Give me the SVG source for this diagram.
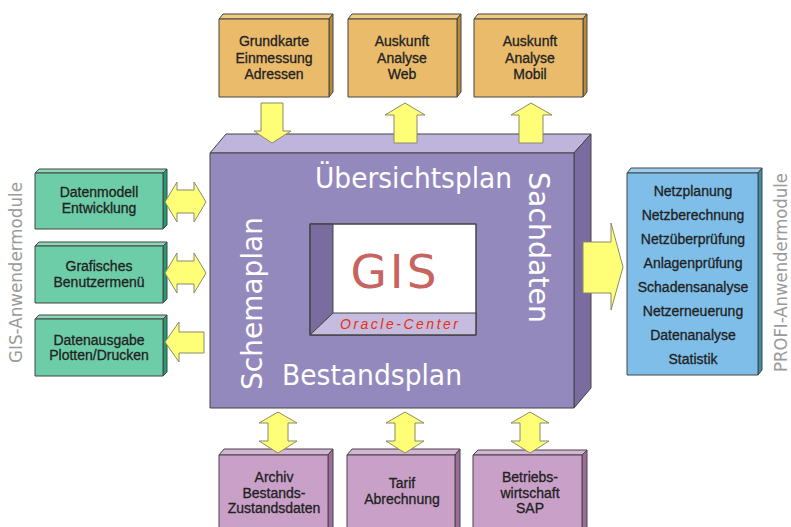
<svg xmlns="http://www.w3.org/2000/svg" width="791" height="527" viewBox="0 0 791 527">
<defs>
<style>
.lbl{font-family:"Liberation Sans",Arial,sans-serif;font-size:14px;fill:#222;stroke:#222;stroke-width:0.3;text-anchor:middle}
.big{font-family:"DejaVu Sans","Liberation Sans",sans-serif;font-size:29px;fill:#fff}
.side{font-family:"DejaVu Sans","Liberation Sans",sans-serif;font-size:17px;fill:#9a9a9a}
.edge{stroke:#444;stroke-width:1;stroke-linejoin:round}
.arr{fill:#ffff77;stroke:#8a8a6a;stroke-width:1;stroke-linejoin:round}
.of{fill:#ebbb6c}.ot{fill:#f0c985}.os{fill:#b98a3a}
.gf{fill:#6dcda9}.gt{fill:#8ad8b8}.gs{fill:#1f9e72}
.bf{fill:#7ebee8}.bt{fill:#9ccdee}.bs{fill:#3c8da8}
.pf{fill:#c9a0c8}.pt{fill:#d6b4d5}.ps{fill:#9c6c9c}
</style>
</defs>
<rect width="791" height="527" fill="#fff"/>

<g id="main">
<polygon class="edge" points="210,153 226,134 591,134 574,153" fill="#bfb5dc"/>
<polygon class="edge" points="574,153 591,134 591,388 574,408" fill="#7a6c9e"/>
<rect class="edge" x="210" y="153" width="364" height="255" fill="#9489bd"/>
<polygon class="edge" points="310,224 476,224 476,335 310,335" fill="#fff"/>
<polygon points="310,224 333,224 333,313 310,335" fill="#7a6c9e" stroke="#444"/>
<polygon points="333,313 476,313 476,335 310,335" fill="#c5bce0" stroke="#444"/>
<rect x="310" y="224" width="166" height="111" fill="none" stroke="#444"/>
<text x="395" y="288" text-anchor="middle" font-family="DejaVu Sans,Liberation Sans,sans-serif" font-size="47" letter-spacing="3" fill="#c8645f">GIS</text>
<text x="340" y="329" font-family="Liberation Sans,sans-serif" font-style="italic" font-size="14" textLength="118" fill="#e83010">Oracle-Center</text>
<text class="big" x="315" y="188" textLength="197" lengthAdjust="spacingAndGlyphs">Übersichtsplan</text>
<text class="big" x="282" y="385" textLength="180" lengthAdjust="spacingAndGlyphs">Bestandsplan</text>
<text class="big" transform="translate(262,390) rotate(-90)" textLength="173" lengthAdjust="spacingAndGlyphs">Schemaplan</text>
<text class="big" transform="translate(529,172) rotate(90)" textLength="151" lengthAdjust="spacingAndGlyphs">Sachdaten</text>
</g>

<g id="top1">
<polygon class="edge ot" points="219,19 223,14 333,14 329,19"/>
<polygon class="edge os" points="329,19 333,14 333,92 329,97"/>
<rect class="edge of" x="219" y="19" width="110" height="78"/>
<text class="lbl" x="274" y="46">Grundkarte</text>
<text class="lbl" x="274" y="63">Einmessung</text>
<text class="lbl" x="274" y="79">Adressen</text>
</g>
<g id="top2">
<polygon class="edge ot" points="348,19 352,14 461,14 457,19"/>
<polygon class="edge os" points="457,19 461,14 461,92 457,97"/>
<rect class="edge of" x="348" y="19" width="109" height="78"/>
<text class="lbl" x="402" y="46">Auskunft</text>
<text class="lbl" x="402" y="63">Analyse</text>
<text class="lbl" x="402" y="79">Web</text>
</g>
<g id="top3">
<polygon class="edge ot" points="474,19 478,14 587,14 583,19"/>
<polygon class="edge os" points="583,19 587,14 587,92 583,97"/>
<rect class="edge of" x="474" y="19" width="109" height="78"/>
<text class="lbl" x="530" y="46">Auskunft</text>
<text class="lbl" x="530" y="63">Analyse</text>
<text class="lbl" x="530" y="79">Mobil</text>
</g>

<g id="left1">
<polygon class="edge gt" points="35,173 39,169 167,169 163,173"/>
<polygon class="edge gs" points="163,173 167,169 167,225 163,229"/>
<rect class="edge gf" x="35" y="173" width="128" height="56"/>
<text class="lbl" x="99" y="197">Datenmodell</text>
<text class="lbl" x="99" y="213">Entwicklung</text>
</g>
<g id="left2">
<polygon class="edge gt" points="35,246 39,242 167,242 163,246"/>
<polygon class="edge gs" points="163,246 167,242 167,299 163,303"/>
<rect class="edge gf" x="35" y="246" width="128" height="57"/>
<text class="lbl" x="99" y="271">Grafisches</text>
<text class="lbl" x="99" y="287">Benutzermenü</text>
</g>
<g id="left3">
<polygon class="edge gt" points="35,319 39,315 167,315 163,319"/>
<polygon class="edge gs" points="163,319 167,315 167,372 163,376"/>
<rect class="edge gf" x="35" y="319" width="128" height="57"/>
<text class="lbl" x="99" y="345">Datenausgabe</text>
<text class="lbl" x="99" y="360">Plotten/Drucken</text>
</g>

<g id="right">
<polygon class="edge bt" points="627,173 631,168 762,168 758,173"/>
<polygon class="edge bs" points="758,173 762,168 762,370 758,375"/>
<rect class="edge bf" x="627" y="173" width="131" height="202"/>
<text class="lbl" x="693" y="196">Netzplanung</text>
<text class="lbl" x="693" y="220">Netzberechnung</text>
<text class="lbl" x="693" y="244">Netzüberprüfung</text>
<text class="lbl" x="693" y="268">Anlagenprüfung</text>
<text class="lbl" x="693" y="292">Schadensanalyse</text>
<text class="lbl" x="693" y="316">Netzerneuerung</text>
<text class="lbl" x="693" y="340">Datenanalyse</text>
<text class="lbl" x="693" y="364">Statistik</text>
</g>

<g id="bot1">
<polygon class="edge pt" points="219,455 224,449 333,449 328,455"/>
<polygon class="edge ps" points="328,455 333,449 333,530 328,530"/>
<rect class="edge pf" x="219" y="455" width="109" height="80"/>
<text class="lbl" x="274" y="482">Archiv</text>
<text class="lbl" x="274" y="498">Bestands-</text>
<text class="lbl" x="274" y="513">Zustandsdaten</text>
</g>
<g id="bot2">
<polygon class="edge pt" points="347,455 352,449 460,449 455,455"/>
<polygon class="edge ps" points="455,455 460,449 460,530 455,530"/>
<rect class="edge pf" x="347" y="455" width="108" height="80"/>
<text class="lbl" x="402" y="488">Tarif</text>
<text class="lbl" x="402" y="504">Abrechnung</text>
</g>
<g id="bot3">
<polygon class="edge pt" points="473,455 478,450 587,450 582,455"/>
<polygon class="edge ps" points="582,455 587,450 587,530 582,530"/>
<rect class="edge pf" x="473" y="455" width="109" height="80"/>
<text class="lbl" x="530" y="482">Betriebs-</text>
<text class="lbl" x="530" y="498">wirtschaft</text>
<text class="lbl" x="530" y="513">SAP</text>
</g>

<text class="side" transform="translate(22,363) rotate(-90)" textLength="181" lengthAdjust="spacingAndGlyphs">GIS-Anwendermodule</text>
<text class="side" transform="translate(787,372) rotate(-90)" textLength="199" lengthAdjust="spacingAndGlyphs">PROFI-Anwendermodule</text>

<g id="connectors">
<polygon class="arr" points="261,103 283,103 283,131 291,131 272,143 254,131 261,131"/>
<polygon class="arr" points="405,103 425,115 417,115 417,143 394,143 394,115 385,115"/>
<polygon class="arr" points="531,103 552,115 543,115 543,143 519,143 519,115 511,115"/>
<polygon class="arr" points="165,202 177,182 177,190 194,190 194,182 206,202 194,222 194,213 177,213 177,222"/>
<polygon class="arr" points="165,273 177,253 177,261 194,261 194,253 206,273 194,293 194,284 177,284 177,293"/>
<polygon class="arr" points="165,342 179,322 179,332 204,332 204,353 179,353 179,362"/>
<polygon class="arr" points="583,242 611,242 611,223 623,267 611,310 611,293 583,293"/>
<polygon class="arr" points="278,412 297,423 288,423 288,441 297,441 278,453 259,441 268,441 268,423 259,423"/>
<polygon class="arr" points="405,412 424,423 415,423 415,441 424,441 405,453 386,441 395,441 395,423 386,423"/>
<polygon class="arr" points="530,412 549,423 540,423 540,441 549,441 530,453 511,441 520,441 520,423 511,423"/>
</g>
</svg>
